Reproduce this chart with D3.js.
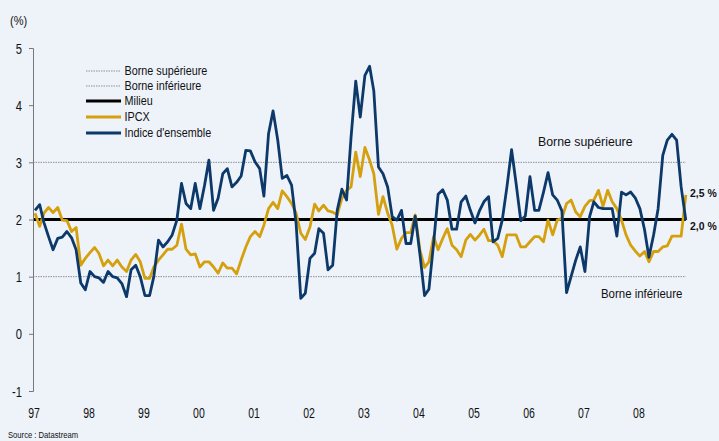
<!DOCTYPE html>
<html>
<head>
<meta charset="utf-8">
<script src="https://cdnjs.cloudflare.com/ajax/libs/d3/7.8.5/d3.min.js"></script>
<style>
  html, body { margin: 0; padding: 0; background: #eef3fa; }
  svg { display: block; font-family: "Liberation Sans", Arial, sans-serif; }
</style>
</head>
<body>
<svg id="chart" width="719" height="441"></svg>
<script>
'use strict';

// monthly values, Jan 1997 .. Nov 2008
var indiceEnsemble = [
  2.16, 2.26, 1.95, 1.70, 1.47, 1.67, 1.69, 1.79, 1.68, 1.47, 0.89, 0.77,
  1.09, 1.00, 0.98, 0.90, 1.09, 1.00, 0.98, 0.88, 0.65, 1.12, 1.20, 1.00,
  0.67, 0.67, 1.00, 1.64, 1.52, 1.61, 1.73, 1.99, 2.63, 2.28, 2.19, 2.63,
  2.19, 2.60, 3.04, 2.16, 2.37, 2.80, 2.89, 2.57, 2.65, 2.76, 3.21, 3.20,
  3.01, 2.89, 2.41, 3.50, 3.90, 3.39, 2.72, 2.77, 2.60, 1.93, 0.62, 0.71,
  1.32, 1.41, 1.84, 1.76, 1.12, 1.20, 2.16, 2.53, 2.34, 3.44, 4.42, 3.79,
  4.52, 4.68, 4.25, 2.92, 2.80, 2.57, 2.05, 1.99, 2.16, 1.58, 1.58, 2.06,
  1.40, 0.67, 0.78, 1.58, 2.44, 2.52, 2.34, 1.83, 1.83, 2.31, 2.41, 2.16,
  1.94, 2.16, 2.31, 2.40, 1.61, 1.67, 1.99, 2.57, 3.22, 2.63, 1.98, 2.06,
  2.75, 2.16, 2.16, 2.48, 2.82, 2.43, 2.34, 2.15, 0.72, 1.00, 1.29, 1.52,
  1.09, 2.05, 2.31, 2.21, 2.19, 2.19, 2.19, 1.71, 2.48, 2.43, 2.48, 2.38,
  2.19, 1.82, 1.34, 1.73, 2.19, 3.12, 3.39, 3.49, 3.39, 2.57, 1.99
];
var ipcx = [
  2.11, 1.88, 2.11, 2.21, 2.12, 2.21, 1.99, 1.98, 1.79, 1.86, 1.20, 1.32,
  1.42, 1.51, 1.41, 1.19, 1.29, 1.19, 1.29, 1.17, 1.09, 1.29, 1.39, 1.26,
  0.97, 0.97, 1.17, 1.29, 1.38, 1.48, 1.48, 1.55, 1.92, 1.48, 1.38, 1.40,
  1.17, 1.26, 1.26, 1.17, 1.06, 1.24, 1.15, 1.15, 1.05, 1.29, 1.52, 1.70,
  1.79, 1.70, 1.90, 2.19, 2.30, 2.19, 2.50, 2.40, 2.28, 2.11, 1.76, 1.65,
  1.87, 2.27, 2.15, 2.25, 2.15, 2.13, 2.08, 2.37, 2.51, 2.57, 3.18, 2.75,
  3.26, 3.04, 2.80, 2.09, 2.40, 2.11, 1.90, 1.48, 1.67, 1.77, 1.77, 2.08,
  1.47, 1.16, 1.26, 1.70, 1.47, 1.67, 1.84, 1.55, 1.47, 1.35, 1.64, 1.74,
  1.64, 1.73, 1.83, 1.63, 1.63, 1.55, 1.35, 1.73, 1.73, 1.73, 1.52, 1.52,
  1.61, 1.70, 1.70, 1.61, 1.99, 1.73, 1.99, 2.02, 2.28, 2.34, 2.13, 2.05,
  2.23, 2.33, 2.34, 2.51, 2.23, 2.51, 2.31, 2.19, 1.99, 1.73, 1.55, 1.45,
  1.36, 1.44, 1.26, 1.44, 1.44, 1.52, 1.54, 1.71, 1.71, 1.71, 2.43
];
var yearLabels = ["97", "98", "99", "00", "01", "02", "03", "04", "05", "06", "07", "08"];
var yTicks = [-1, 0, 1, 2, 3, 4, 5];
var borneSup = 3, borneInf = 1, milieu = 2;
var legendItems = ["Borne supérieure", "Borne inférieure", "Milieu", "IPCX", "Indice d'ensemble"];
var endLabels = ["2,5 %", "2,0 %"];

var BLUE = "#0c396a", GOLD = "#d5a00e", GREY = "#8f8f8f";

var months = d3.utcMonths(new Date(Date.UTC(1997, 0, 1)), new Date(Date.UTC(2008, 11, 1)));
var svg = d3.select('#chart');

var x = d3.scaleUtc()
  .domain([new Date(Date.UTC(1997, 0, 1)), new Date(Date.UTC(2009, 0, 1))])
  .range([35, 695]);
var y = d3.scaleLinear().domain([-1, 5]).range([391, 48]);

var x0 = 33, xEnd = x(months[months.length - 1]);

// squeeze text a bit horizontally, like the narrow font of the original
function txt(g, px, py, s, size, sx, anchor, weight) {
  return g.append('text')
    .attr('transform', 'translate(' + px + ',' + py + ') scale(' + sx + ',1)')
    .attr('text-anchor', anchor || 'start')
    .attr('font-size', size)
    .attr('font-weight', weight || 'normal')
    .attr('fill', '#111')
    .text(s);
}

// reference lines
function hline(v, color, width, dash) {
  svg.append('line')
    .attr('x1', x0).attr('x2', xEnd)
    .attr('y1', y(v)).attr('y2', y(v))
    .attr('stroke', color).attr('stroke-width', width)
    .attr('stroke-dasharray', dash || null);
}
hline(borneSup, GREY, 1, '1.5,1');
hline(borneInf, GREY, 1, '1.5,1');
hline(milieu, '#000', 3);

// y axis
var yAxis = svg.append('g').attr('transform', 'translate(' + x0 + ',0)')
  .call(d3.axisLeft(y).tickValues(yTicks).tickSize(4).tickFormat(d3.format('d')));
yAxis.select('.domain').attr('stroke', '#777');
yAxis.selectAll('.tick line').attr('stroke', '#777');
yAxis.selectAll('.tick text').remove();
yAxis.selectAll('.tick').each(function (d) {
  txt(d3.select(this), -11, 5, d, 14, 0.8, 'end');
});
txt(svg, 10, 25, '(%)', 13, 0.85);

// x labels
yearLabels.forEach(function (lab, i) {
  txt(svg, x(new Date(Date.UTC(1997 + i, 0, 1))) - 1, 418, lab, 14, 0.75, 'middle');
});

// series
var line = d3.line().x(function (d, i) { return x(months[i]); }).y(function (d) { return y(d); });
svg.append('path').datum(ipcx).attr('d', line)
  .attr('fill', 'none').attr('stroke', GOLD).attr('stroke-width', 2.8).attr('stroke-linejoin', 'round');
svg.append('path').datum(indiceEnsemble).attr('d', line)
  .attr('fill', 'none').attr('stroke', BLUE).attr('stroke-width', 2.8).attr('stroke-linejoin', 'round');

// legend
var legStyles = [
  { c: GREY, w: 1, d: '1.5,1' },
  { c: GREY, w: 1, d: '1.5,1' },
  { c: '#000', w: 3 },
  { c: GOLD, w: 3 },
  { c: BLUE, w: 3 }
];
var legY = [71, 86, 101, 117, 133];
legendItems.forEach(function (name, i) {
  var st = legStyles[i];
  svg.append('line').attr('x1', 86).attr('x2', 121).attr('y1', legY[i]).attr('y2', legY[i])
    .attr('stroke', st.c).attr('stroke-width', st.w).attr('stroke-dasharray', st.d || null);
  txt(svg, 124.5, legY[i] + 4, name, 12, 0.9);
});

// annotations
txt(svg, 538, 146, 'Borne supérieure', 13, 0.95);
txt(svg, 601, 298, 'Borne inférieure', 13, 0.88);
txt(svg, 690, 197, endLabels[0], 11, 0.95, 'start', 'bold');
txt(svg, 690, 230, endLabels[1], 11, 0.95, 'start', 'bold');
txt(svg, 8, 438, 'Source : Datastream', 9, 0.85);
</script>
</body>
</html>
